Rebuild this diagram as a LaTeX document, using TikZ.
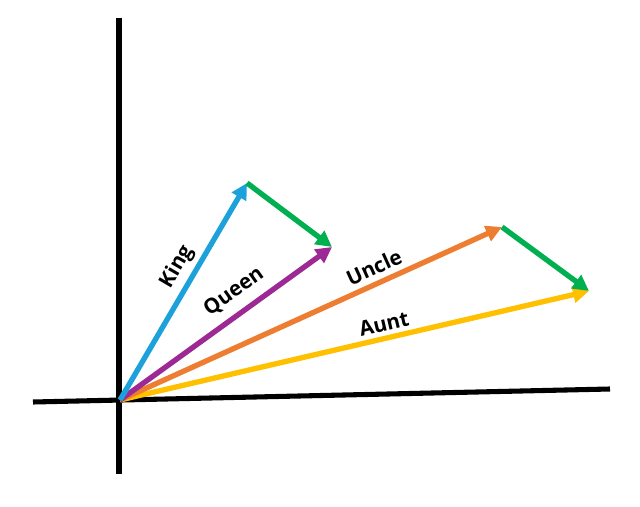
\documentclass[tikz,border=0pt]{standalone}
\usepackage{fontspec}
\setmainfont{Open Sans}
\usetikzlibrary{arrows.meta}
\definecolor{kingblue}{RGB}{29,161,219}
\definecolor{queenpurple}{RGB}{157,41,148}
\definecolor{uncleorange}{RGB}{237,125,49}
\definecolor{auntyellow}{RGB}{255,192,0}
\definecolor{diffgreen}{RGB}{0,176,80}
\tikzset{
  axisline/.style={line width=3.8pt, black},
  wordvec/.style={line width=4pt, -{Triangle[length=12pt, width=12pt]}},
  wordlabel/.style={font=\bfseries\fontsize{15.5}{17}\selectfont, inner sep=0pt}
}
\begin{document}
\begin{tikzpicture}[x=0.75pt,y=0.75pt,yscale=-1,xscale=1]
\useasboundingbox (0,0) rectangle (640,507);

%Coordinates
\coordinate (o) at (120,400);
\coordinate (ytop) at (119,18);
\coordinate (ybot) at (119,474);
\coordinate (xleft) at (33,402);
\coordinate (xright) at (610,389);
\coordinate (kingtip) at (247,183);
\coordinate (queentip) at (332,247);
\coordinate (uncletip) at (502,227);
\coordinate (aunttip) at (589,291);

%Axes
\draw [axisline] (ytop) -- (ybot) ;
\draw [axisline] (xleft) -- (xright) ;

%Vectors
\draw [wordvec, auntyellow] (o) -- (aunttip) ;
\draw [wordvec, uncleorange] (o) -- (uncletip) ;
\draw [wordvec, queenpurple] (o) -- (queentip) ;
\draw [wordvec, kingblue] (o) -- (kingtip) ;
\draw [wordvec, diffgreen] (kingtip) -- (queentip) ;
\draw [wordvec, diffgreen] (uncletip) -- (aunttip) ;

% Text Node
\node [wordlabel, rotate=59.7] (king) at (177,267) {King};
% Text Node
\node [wordlabel, rotate=35.6] (queen) at (234,292) {Queen};
% Text Node
\node [wordlabel, rotate=24.4] (uncle) at (374,267) {Uncle};
% Text Node
\node [wordlabel, rotate=13.1] (aunt) at (384,324) {Aunt};
\end{tikzpicture}
\end{document}
